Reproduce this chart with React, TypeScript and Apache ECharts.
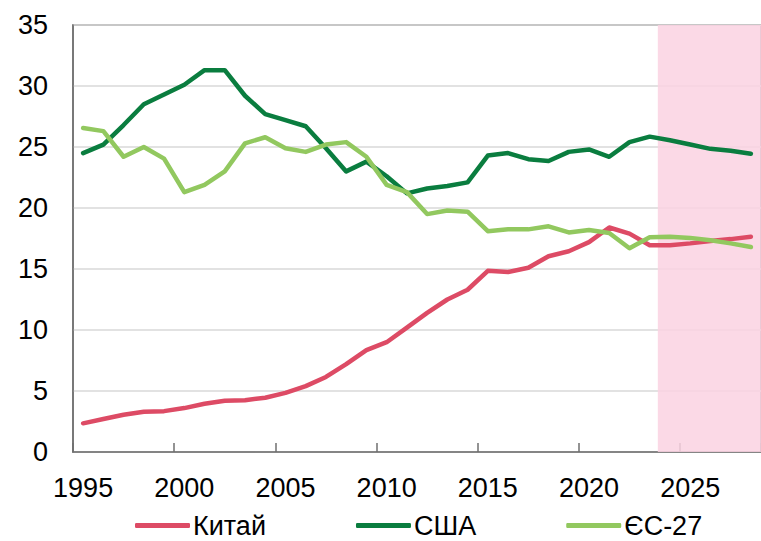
import React, { useEffect, useRef } from "react";
import * as echarts from "echarts";

const years: string[] = [
  "1995", "1996", "1997", "1998", "1999", "2000", "2001", "2002", "2003", "2004",
  "2005", "2006", "2007", "2008", "2009", "2010", "2011", "2012", "2013", "2014",
  "2015", "2016", "2017", "2018", "2019", "2020", "2021", "2022", "2023", "2024",
  "2025", "2026", "2027", "2028",
];

const china: number[] = [
  2.35, 2.7, 3.05, 3.3, 3.35, 3.6, 3.95, 4.2, 4.25, 4.45,
  4.85, 5.4, 6.15, 7.2, 8.35, 9.0, 10.2, 11.4, 12.5, 13.3,
  14.85, 14.75, 15.1, 16.05, 16.45, 17.2, 18.4, 17.9, 16.95, 16.95,
  17.1, 17.3, 17.45, 17.65,
];

const usa: number[] = [
  24.5, 25.2, 26.8, 28.5, 29.3, 30.1, 31.3, 31.3, 29.2, 27.7,
  27.2, 26.7, 24.9, 23.0, 23.8, 22.6, 21.2, 21.6, 21.8, 22.1,
  24.3, 24.5, 24.0, 23.85, 24.6, 24.8, 24.2, 25.4, 25.85, 25.55,
  25.2, 24.85, 24.7, 24.45,
];

const eu27: number[] = [
  26.55, 26.3, 24.2, 25.0, 24.05, 21.3, 21.9, 23.0, 25.3, 25.8,
  24.9, 24.6, 25.2, 25.4, 24.2, 21.9, 21.3, 19.5, 19.8, 19.7,
  18.1, 18.25, 18.25, 18.5, 18.0, 18.2, 17.95, 16.7, 17.6, 17.65,
  17.55, 17.35, 17.1, 16.8,
];

const seriesNames: string[] = ["Китай", "США", "ЄС-27"];
const seriesColors: string[] = ["#DD4B65", "#0A7D3F", "#92C85F"];

// forecast shading range (in years, on a continuous year scale)
const forecastStart = 2023.4;
const yearScaleMin = 1994.5;
const yearScaleMax = 2028.5;

const FONT = "'Liberation Sans', Arial, sans-serif";
const AXIS_COLOR = "#6f6f6f";

export default function App() {
  const ref = useRef<HTMLDivElement>(null);

  useEffect(() => {
    if (!ref.current) return;
    const chart = echarts.init(ref.current, undefined, { renderer: "svg" });
    const values = [china, usa, eu27];
    chart.setOption({
      animation: false,
      backgroundColor: "#ffffff",
      textStyle: { fontFamily: FONT },
      grid: {
        left: 73,
        top: 25,
        width: 691,
        height: 427,
        show: true,
        borderColor: AXIS_COLOR,
        borderWidth: 1.5,
        backgroundColor: "transparent",
      },
      legend: {
        left: 130,
        bottom: -3,
        itemWidth: 55,
        itemHeight: 5,
        itemGap: 90,
        icon: "roundRect",
        textStyle: { fontSize: 27, color: "#000", fontFamily: FONT, padding: [0, 0, 0, -2] },
        data: seriesNames,
      },
      xAxis: [
        {
          type: "category",
          data: years,
          boundaryGap: true,
          axisLine: { show: true, lineStyle: { color: AXIS_COLOR, width: 1.5 } },
          axisTick: {
            show: true,
            inside: true,
            length: 9,
            interval: 4,
            lineStyle: { color: AXIS_COLOR, width: 1.5 },
          },
          axisLabel: {
            interval: 4,
            fontSize: 27,
            color: "#000",
            margin: 22,
            fontFamily: FONT,
          },
          splitLine: { show: false },
        },
        {
          type: "value",
          min: yearScaleMin,
          max: yearScaleMax,
          show: false,
          position: "top",
        },
      ],
      yAxis: {
        type: "value",
        min: 0,
        max: 35,
        interval: 5,
        axisLine: { show: true, lineStyle: { color: AXIS_COLOR, width: 1.5 } },
        axisTick: { show: false },
        axisLabel: { fontSize: 27, color: "#000", margin: 25, fontFamily: FONT },
        splitLine: { show: true, lineStyle: { color: "#d9d9d9", width: 1.5 } },
      },
      series: [
        {
          type: "line",
          name: "forecast",
          xAxisIndex: 1,
          data: [],
          silent: true,
          markArea: {
            silent: true,
            itemStyle: { color: "#FAD2E2", opacity: 0.85 },
            data: [[{ xAxis: forecastStart }, { xAxis: yearScaleMax }]],
          },
        },
        ...seriesNames.map((name, i) => ({
          type: "line",
          name,
          data: values[i],
          showSymbol: false,
          symbol: "none",
          smooth: false,
          color: seriesColors[i],
          lineStyle: { width: 4.5, color: seriesColors[i], cap: "round", join: "round" },
          z: 3 + i,
        })),
      ],
    });
    return () => chart.dispose();
  }, []);

  return (
    <div
      ref={ref}
      style={{ position: "fixed", left: 0, top: 0, width: 761, height: 541 }}
    />
  );
}
